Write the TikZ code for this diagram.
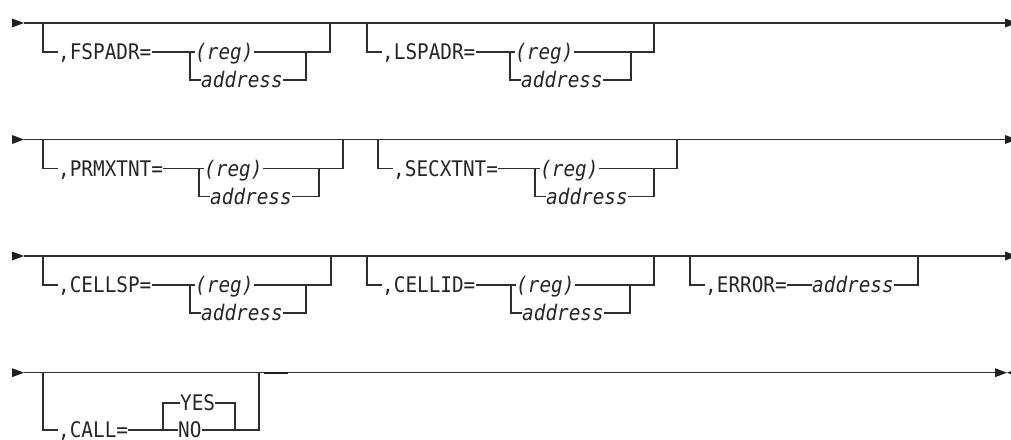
\documentclass[tikz,border=0pt]{standalone}
\usepackage{fontspec}
\newfontfamily\synfont[FakeStretch=0.9]{DejaVu Sans Mono}
\tikzset{
  ln/.style={line width=1.2pt, draw=black!82},
  lbl/.style={font=\synfont\fontsize{21.5}{22}\selectfont, text=black!85, inner sep=0pt, text height=15.6pt, text depth=0pt},
  var/.style={lbl, font=\synfont\itshape\fontsize{21.5}{22}\selectfont},
  tri/.style={fill=black!88, draw=none}
}
% #1 id, #2 main-line y, #3 left vertical x, #4 label, #5 choice x, #6 right choice x, #7 outer x
\newcommand{\rablock}[7]{%
  \coordinate (#1-lt) at (#3,#2);
  \coordinate (#1-lb) at (#3,{#2+29});
  \node[lbl,anchor=west] (#1-lab) at ({#3+15},{#2+29}) {#4};
  \coordinate (#1-ct) at (#5,{#2+29});
  \coordinate (#1-cb) at (#5,{#2+57});
  \node[var,anchor=west] (#1-reg) at ({#5+5},{#2+29}) {(reg)};
  \node[var,anchor=west] (#1-adr) at ({#5+11},{#2+57}) {address};
  \coordinate (#1-rt) at (#6,{#2+29});
  \coordinate (#1-rb) at (#6,{#2+57});
  \coordinate (#1-ot) at (#7,#2);
  \coordinate (#1-ob) at (#7,{#2+29});
  \draw[ln] (#1-lt) -- (#1-lb) -- (#1-lab.west);
  \draw[ln] (#1-lab.east) -- (#1-ct) -- (#1-reg.west);
  \draw[ln] (#1-reg.east) -- (#1-ob) -- (#1-ot);
  \draw[ln] (#1-ct) -- (#1-cb) -- (#1-adr.west);
  \draw[ln] (#1-adr.east) -- (#1-rb) -- (#1-rt);
}
% #1 id, #2 y
\newcommand{\mainrow}[2]{%
  \coordinate (#1-s) at (24,#2);
  \coordinate (#1-e) at (1005,#2);
  \fill[tri] (12,{#2-4.5}) -- (#1-s) -- (12,{#2+4.5}) -- cycle;
  \draw[ln] (#1-s) -- (#1-e);
  \fill[tri] (#1-e) ++(0,-4.5) -- ++(12,4.5) -- ++(-12,4.5) -- cycle;
}
\begin{document}
\begin{tikzpicture}[x=1pt,y=-1pt]
\useasboundingbox (0,0) rectangle (1011,439);
% Row 1
\mainrow{m1}{23}
\rablock{a}{23}{43}{,FSPADR=}{190}{306}{330}
\rablock{b}{23}{367}{,LSPADR=}{510}{631}{654}
% Row 2
\mainrow{m2}{139.5}
\rablock{c}{139.5}{43}{,PRMXTNT=}{199}{319}{343}
\rablock{d}{139.5}{378}{,SECXTNT=}{535}{654}{677}
% Row 3
\mainrow{m3}{256}
\rablock{e}{256}{43}{,CELLSP=}{190}{306}{331}
\rablock{f}{256}{367}{,CELLID=}{511}{630}{654}
\coordinate (g-lt) at (690,256);
\coordinate (g-lb) at (690,285);
\node[lbl,anchor=west] (g-lab) at (705,285) {,ERROR=};
\node[var,anchor=west] (g-adr) at (812,285) {address};
\coordinate (g-ob) at (918,285);
\coordinate (g-ot) at (918,256);
\draw[ln] (g-lt) -- (g-lb) -- (g-lab.west);
\draw[ln] (g-lab.east) -- (g-adr.west);
\draw[ln] (g-adr.east) -- (g-ob) -- (g-ot);
% Row 4
\coordinate (m4-s) at (24,372.7);
\coordinate (m4-e) at (995,372.7);
\fill[tri] (12,368.2) -- (m4-s) -- (12,377.2) -- cycle;
\draw[ln] (m4-s) -- (m4-e);
\fill[tri] (m4-e) ++(0,-4.5) -- ++(12,4.5) -- ++(-12,4.5) -- cycle;
\fill[tri] (1019,368.2) -- (1007,372.7) -- (1019,377.2) -- cycle;
\coordinate (t1) at (264,372.7);
\coordinate (t2) at (288,372.7);
\draw[line width=2.2pt, draw=black!88] (t1) -- (t2);
\coordinate (h-lt) at (43,372.7);
\coordinate (h-lb) at (43,430);
\node[lbl,anchor=west] (h-lab) at (58,430) {,CALL=};
\coordinate (h-ct) at (163,403);
\coordinate (h-cb) at (163,430);
\node[lbl,anchor=west] (h-yes) at (180,403) {YES};
\node[lbl,anchor=west] (h-no) at (178,430) {NO};
\coordinate (h-rt) at (235,403);
\coordinate (h-rb) at (235,430);
\coordinate (h-ob) at (259,430);
\coordinate (h-ot) at (259,372.7);
\draw[ln] (h-lt) -- (h-lb) -- (h-lab.west);
\draw[ln] (h-lab.east) -- (h-no.west);
\draw[ln] (h-cb) -- (h-ct) -- (h-yes.west);
\draw[ln] (h-yes.east) -- (h-rt) -- (h-rb);
\draw[ln] (h-no.east) -- (h-ob) -- (h-ot);
\end{tikzpicture}
\end{document}
